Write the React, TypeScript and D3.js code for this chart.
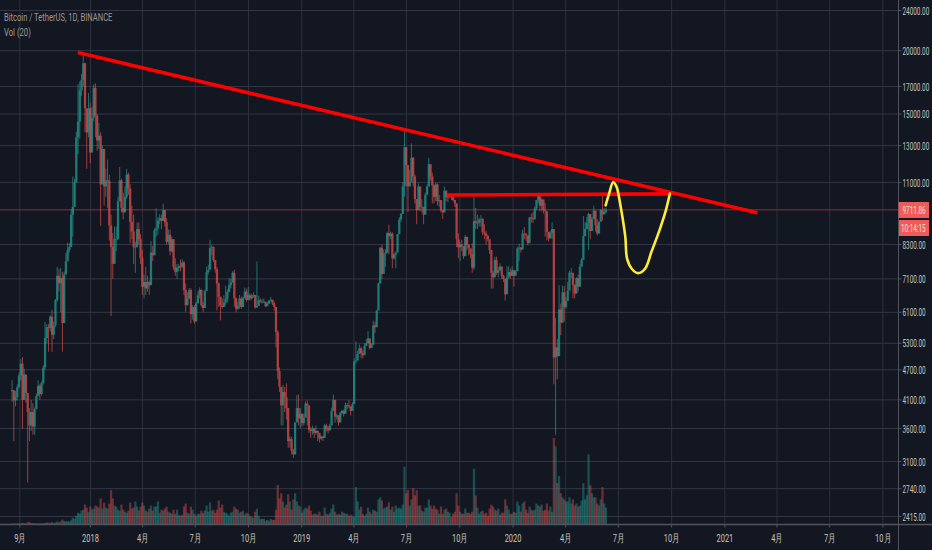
import * as d3 from "d3";

const W = 932;
const H = 550;

// 3-day bars starting at the first Binance candle
const firstBar = new Date(Date.UTC(2017, 7, 17));

const closes = [
  4285, 4090, 4150, 4340, 4580, 4830, 4100, 4600, 4230, 3880,
  3650, 3880, 3630, 3930, 4170, 4370, 4210, 4430, 4750, 5430,
  5700, 5680, 5980, 5510, 5750, 6450, 7200, 6960, 7130, 5810,
  7240, 7690, 8100, 8200, 9500, 9840, 11000, 13500, 14500, 16700,
  17500, 18900, 15400, 13800, 15400, 12600, 14750, 16900, 14900, 13300,
  13600, 10900, 12800, 10800, 11100, 11100, 9050, 8200, 7600, 8500,
  8500, 10100, 11100, 9800, 9600, 10300, 11400, 10700, 9200, 8800,
  8200, 8200, 8900, 8500, 7800, 6850, 7000, 6800, 7000, 6900,
  8000, 7900, 8850, 8930, 9250, 9350, 9240, 9700, 9180, 8400,
  8670, 8050, 8500, 7500, 7330, 7460, 7520, 7480, 7650, 6750,
  6300, 6500, 6750, 6050, 6250, 5850, 6350, 6590, 6750, 6300,
  6220, 6720, 7320, 7400, 8170, 8200, 7730, 7420, 6950, 6550,
  6280, 6250, 6380, 6470, 6690, 6900, 6980, 7300, 6500, 6200,
  6280, 6490, 6250, 6500, 6700, 6450, 6590, 6500, 6580, 6600,
  6240, 6280, 6440, 6400, 6400, 6400, 6270, 6340, 6430, 6460,
  6350, 6250, 5580, 4670, 4350, 4000, 4250, 4150, 3950, 3400,
  3430, 3250, 3200, 3700, 3950, 3770, 3850, 3690, 3780, 4030,
  4000, 3580, 3560, 3600, 3530, 3560, 3530, 3440, 3470, 3450,
  3650, 3600, 3570, 3650, 3900, 4100, 3800, 3820, 3700, 3860,
  3900, 3850, 4000, 4000, 3980, 3900, 4020, 4880, 4900, 5050,
  5180, 5070, 5020, 5240, 5300, 5420, 5190, 5260, 5750, 5700,
  6150, 6950, 8180, 7260, 7950, 7990, 8740, 8620, 8720, 7790,
  7930, 8000, 8700, 9300, 9530, 10800, 12900, 11900, 10800, 11000,
  12300, 11300, 10200, 9700, 10800, 9850, 9850, 9500, 10400, 10800,
  11950, 11300, 10850, 10300, 10900, 10100, 10150, 9700, 9600, 10600,
  10300, 10300, 10400, 10300, 10160, 10000, 8500, 8190, 8300, 8230,
  7870, 8590, 8300, 8160, 7950, 7470, 9230, 9150, 9150, 9300,
  9320, 8770, 8720, 8630, 8500, 8100, 7300, 7150, 7740, 7300,
  7390, 7510, 7200, 7100, 6620, 7150, 7320, 7200, 7380, 7200,
  7350, 8150, 8180, 8110, 8720, 8700, 8650, 8350, 9380, 9350,
  9300, 9770, 10150, 10350, 9900, 10180, 9700, 9650, 8790, 8530,
  8750, 8900, 4970, 5200, 5000, 6180, 5820, 6680, 6250, 6420,
  6730, 7300, 7300, 6900, 6640, 7120, 6850, 7500, 7740, 8620,
  8900, 9150, 9530, 8820, 9320, 9680, 9060, 8720, 9200, 9700,
  9520, 9620, 9711.86,
];

const highs = [
  4485, 4200, 4270, 4400, 4640, 4930, 4980, 4720, 4340, 4200,
  3950, 4100, 4040, 3960, 4220, 4480, 4400, 4460, 4800, 5840,
  5780, 5780, 6020, 6170, 5850, 6480, 7500, 7430, 7460, 7330,
  7340, 7990, 8370, 8350, 9750, 11300, 11190, 13850, 17200, 17400,
  18000, 19798, 17500, 15000, 16500, 15800, 15500, 17170, 17250, 15000,
  14400, 13800, 13000, 12800, 11700, 12200, 11400, 9500, 8740, 9000,
  9000, 10300, 11790, 11200, 10500, 10800, 11700, 11500, 10900, 9900,
  9500, 8400, 9170, 9170, 8700, 8100, 7240, 7500, 7200, 7050,
  8430, 8240, 8930, 9780, 9400, 9530, 9500, 9990, 9700, 9350,
  8880, 8880, 8600, 8500, 7800, 7600, 7600, 7750, 7760, 7700,
  6950, 6680, 6810, 6800, 6300, 6300, 6400, 6700, 6830, 6780,
  6400, 6760, 7500, 7570, 8480, 8280, 8230, 7730, 7490, 6980,
  6500, 6500, 6590, 6880, 6780, 7130, 7100, 7350, 7400, 6530,
  6400, 6600, 6550, 6550, 6830, 6790, 6840, 6650, 6620, 6680,
  6600, 7680, 6580, 6500, 6480, 6500, 6400, 6400, 6450, 6540,
  6450, 6400, 5700, 5620, 4750, 4330, 4390, 4350, 4420, 3950,
  3470, 3470, 3280, 3700, 4190, 4200, 3950, 3850, 3850, 4070,
  4090, 3880, 3620, 3650, 3610, 3650, 3570, 3510, 3490, 3480,
  3670, 3680, 3640, 3680, 3960, 4200, 3860, 3850, 3820, 3890,
  3920, 3920, 4050, 4040, 4100, 3980, 4060, 4950, 5345, 5120,
  5270, 5220, 5130, 5300, 5400, 5600, 5400, 5300, 5870, 5850,
  6170, 6980, 8200, 8300, 8110, 8130, 8800, 9080, 8800, 8770,
  7970, 8050, 8710, 9400, 9570, 10990, 13970, 12900, 11280, 11650,
  13130, 12350, 11400, 9980, 10950, 10600, 10180, 9700, 10500, 10900,
  12300, 11780, 11500, 10900, 11000, 10950, 10400, 10150, 9700, 10790,
  10400, 10410, 10450, 10350, 10250, 10100, 10000, 8730, 8400, 8480,
  8250, 8660, 8600, 8300, 8120, 8340, 10370, 9800, 9500, 9370,
  9480, 9350, 9100, 8840, 8660, 8210, 7680, 7370, 7850, 7860,
  7490, 7620, 7380, 7230, 7020, 7520, 7510, 7440, 7520, 7400,
  7390, 8210, 8330, 8200, 8880, 8980, 8750, 8450, 9400, 9550,
  9600, 9850, 10160, 10500, 10380, 10250, 10170, 10020, 9020, 8740,
  8830, 9180, 8180, 5950, 5400, 6900, 6350, 6890, 6870, 6520,
  7000, 7370, 7450, 7050, 6930, 7150, 7240, 7600, 7800, 9450,
  9200, 9400, 9580, 9170, 9400, 9890, 9570, 9310, 9220, 9740,
  10380, 9800, 9800,
];

const lows = [
  4060, 3400, 3980, 4090, 4320, 4480, 3600, 4230, 4050, 2817,
  3400, 3560, 3500, 3500, 4000, 4210, 4100, 4180, 4400, 4700,
  5300, 5100, 5600, 5100, 5400, 5700, 6400, 6700, 6100, 5100,
  6500, 7400, 7800, 8000, 9000, 8600, 10700, 11600, 12500, 13400,
  16300, 17000, 13800, 11700, 13500, 12000, 13000, 14500, 13500, 12700,
  12800, 9035, 11500, 9900, 10300, 9800, 8450, 6000, 7100, 7800,
  8050, 9300, 10100, 9600, 9300, 9700, 10200, 10400, 8350, 8500,
  7600, 7300, 8300, 8300, 7600, 6600, 6500, 6600, 6700, 6600,
  7800, 7700, 8100, 8600, 8650, 9100, 8900, 9350, 9000, 8300,
  8300, 7900, 8000, 7400, 7200, 7100, 7350, 7350, 7550, 6600,
  6100, 6300, 6480, 5800, 5900, 5790, 6270, 6400, 6500, 6250,
  6100, 6230, 7200, 7250, 7800, 7900, 7660, 7300, 6150, 6250,
  5880, 6200, 6300, 6300, 6380, 6680, 6800, 7030, 6260, 6100,
  6170, 6200, 6200, 6280, 6550, 6400, 6450, 6430, 6460, 6520,
  6200, 6230, 6350, 6380, 6350, 6380, 6240, 6300, 6350, 6400,
  6300, 6150, 5200, 4500, 4250, 3650, 3650, 3880, 3750, 3300,
  3300, 3200, 3150, 3400, 3770, 3650, 3600, 3640, 3650, 3950,
  3650, 3530, 3450, 3500, 3450, 3500, 3400, 3380, 3420, 3400,
  3600, 3550, 3520, 3570, 3850, 3900, 3700, 3750, 3650, 3780,
  3840, 3800, 3900, 3930, 3950, 3820, 3950, 4050, 4830, 4950,
  5120, 4950, 4950, 5200, 5250, 5300, 5150, 5200, 5400, 5560,
  5900, 6750, 7800, 7100, 7500, 7500, 8000, 7950, 8500, 7450,
  7750, 7450, 8250, 8900, 9200, 10300, 10300, 10800, 9620, 10800,
  11500, 10800, 10000, 9100, 10350, 9650, 9600, 9100, 9900, 10500,
  11400, 11100, 10000, 10000, 10100, 9900, 9850, 9600, 9320, 10350,
  10100, 10050, 10250, 10150, 10100, 9850, 8200, 7800, 7700, 8050,
  7780, 8050, 8100, 7900, 7800, 7300, 7400, 8900, 8900, 9000,
  9000, 8650, 8500, 8300, 8400, 7950, 6790, 6800, 7400, 7230,
  7150, 7350, 7100, 7000, 6435, 7000, 7100, 7100, 7200, 6850,
  7300, 7350, 7700, 8000, 8550, 8500, 8450, 8270, 9000, 9170,
  9150, 9500, 9700, 10000, 9650, 9650, 9550, 8600, 8450, 8420,
  8650, 8520, 4400, 3500, 4500, 5600, 5500, 6300, 5850, 6200,
  6600, 7050, 7130, 6500, 6500, 7000, 6700, 7300, 7600, 8500,
  8700, 8900, 8100, 8500, 9000, 9450, 8800, 8650, 8800, 9350,
  9250, 9500, 9550,
];

// volume in thousands of BTC, peak day of each 3-day bar
const volumes = [
  3, 2, 2, 3, 3, 4, 5, 4, 3, 8,
  10, 5, 4, 4, 3, 3, 3, 3, 4, 5,
  7, 6, 6, 9, 5, 7, 12, 8, 12, 22,
  15, 12, 14, 12, 18, 30, 25, 40, 55, 50,
  65, 70, 95, 80, 60, 85, 70, 75, 90, 85,
  80, 125, 75, 105, 80, 75, 100, 165, 125, 90,
  85, 70, 65, 95, 70, 60, 55, 65, 105, 75,
  80, 110, 85, 65, 85, 105, 90, 65, 60, 75,
  90, 65, 85, 85, 110, 55, 70, 65, 75, 85,
  60, 55, 50, 70, 50, 70, 45, 40, 45, 85,
  100, 55, 50, 85, 70, 50, 40, 50, 50, 65,
  55, 65, 90, 60, 105, 65, 70, 55, 70, 115,
  80, 95, 60, 55, 50, 40, 55, 60, 85, 75,
  70, 55, 60, 65, 45, 55, 50, 40, 35, 30,
  60, 75, 40, 25, 25, 25, 15, 20, 15, 25,
  20, 20, 70, 190, 125, 150, 110, 80, 95, 145,
  110, 70, 120, 150, 110, 90, 85, 55, 70, 80,
  75, 90, 65, 45, 50, 50, 45, 60, 40, 40,
  80, 50, 45, 55, 75, 95, 60, 45, 50, 45,
  60, 55, 50, 50, 40, 45, 40, 35, 180, 110,
  70, 85, 50, 40, 50, 80, 60, 50, 70, 65,
  60, 120, 130, 115, 75, 80, 85, 105, 70, 85,
  60, 90, 75, 80, 75, 95, 280, 150, 165, 90,
  120, 175, 140, 165, 90, 90, 65, 60, 80, 80,
  120, 90, 75, 90, 75, 70, 50, 85, 50, 70,
  75, 60, 55, 35, 50, 60, 150, 90, 60, 50,
  50, 75, 55, 55, 50, 60, 270, 140, 80, 50,
  60, 65, 50, 55, 40, 75, 95, 85, 70, 65,
  75, 45, 55, 55, 120, 90, 70, 50, 50, 60,
  55, 110, 90, 60, 100, 110, 70, 55, 85, 70,
  65, 70, 100, 90, 85, 95, 65, 70, 100, 65,
  85, 60, 420, 380, 200, 235, 150, 130, 120, 110,
  110, 130, 100, 120, 90, 100, 85, 90, 115, 200,
  120, 140, 340, 190, 150, 130, 130, 100, 90, 120,
  180, 100, 80,
];

const priceTicks = [24000, 20000, 17000, 15000, 13000, 11000, 8300, 7100, 6100, 5300, 4700, 4100, 3600, 3100, 2740, 2415];
const timeTicks = ["2017-09-01", "2018-01-01", "2018-04-01", "2018-07-01", "2018-10-01", "2019-01-01", "2019-04-01", "2019-07-01", "2019-10-01", "2020-01-01", "2020-04-01", "2020-07-01", "2020-10-01", "2021-01-01", "2021-04-01", "2021-07-01", "2021-10-01"];
const timeLabels = ["9月", "2018", "4月", "7月", "10月", "2019", "4月", "7月", "10月", "2020", "4月", "7月", "10月", "2021", "4月", "7月", "10月"];

const lastPrice = 9711.86;

// hand drawn annotations
const trendDates = ["2017-12-10", "2021-02-26"];
const trendPrices = [19830, 9580];
const levelDates = ["2019-09-09", "2020-09-28"];
const levelPrices = [10390, 10440];
const sketchDates = ["2020-06-09", "2020-06-15", "2020-06-22", "2020-06-28", "2020-07-02", "2020-07-07", "2020-07-13", "2020-07-16", "2020-07-24", "2020-08-04", "2020-08-16", "2020-08-27", "2020-09-11", "2020-09-21", "2020-09-28"];
const sketchPrices = [9914, 10454, 11006, 10774, 10296, 9548, 8585, 7781, 7435, 7289, 7435, 8018, 8918, 9691, 10454];

const BG = "#131722";
const GRID = "#2d303d";
const AXIS = "#50535e";
const UP = "#26a69a";
const DOWN = "#ef5350";
const TEXT = "#c4c4ba";

const axisX = 898.5;
const axisY = 524.5;

const x = d3.scaleUtc().domain([new Date("2018-01-01"), new Date("2021-10-01")]).range([90.5, 882.9]);
const y = d3.scaleLog().domain([2415, 24000]).range([516.5, 10.5]);
const volY = d3.scaleLinear().domain([0, 420]).range([524, 438]);

const bars = closes.map((close, i) => {
  const date = d3.utcDay.offset(firstBar, i * 3);
  const open = i === 0 ? 4261 : closes[i - 1];
  return { cx: x(d3.utcHour.offset(date, 36)), open, close, high: highs[i], low: lows[i], vol: volumes[i] };
});
const step = x(d3.utcDay.offset(firstBar, 3)) - x(firstBar);

const toPath = (dates: string[], prices: number[], curve: d3.CurveFactory) =>
  d3.line<string>()
    .x((d) => x(new Date(d)))
    .y((_, i) => y(prices[i]))
    .curve(curve)(dates) ?? "";

function Label({ x: tx, y: ty, sx, anchor = "start", fill = TEXT, children }: { x: number; y: number; sx: number; anchor?: string; fill?: string; children: string }) {
  return (
    <text
      transform={`translate(${tx},${ty}) scale(${sx},1)`}
      textAnchor={anchor}
      dominantBaseline="central"
      fontFamily="Roboto, sans-serif"
      fontSize={11}
      fill={fill}
    >
      {children}
    </text>
  );
}

export default function App() {
  return (
    <svg width={W} height={H} viewBox={`0 0 ${W} ${H}`} style={{ position: "absolute", left: 0, top: 0, background: BG }}>
      {/* grid */}
      {timeTicks.map((t) => (
        <line key={t} x1={x(new Date(t))} x2={x(new Date(t))} y1={0} y2={axisY} stroke={GRID} />
      ))}
      {priceTicks.map((p) => (
        <line key={p} x1={0} x2={axisX} y1={y(p)} y2={y(p)} stroke="#333644" />
      ))}

      {/* volume */}
      {bars.map((b, i) => (
        <rect
          key={i}
          x={b.cx - step * 0.65}
          y={volY(b.vol)}
          width={step * 1.3}
          height={volY(0) - volY(b.vol)}
          fill={b.close >= b.open ? UP : DOWN}
          opacity={0.4}
        />
      ))}

      {/* price line */}
      <line x1={0} x2={axisX} y1={y(lastPrice)} y2={y(lastPrice)} stroke="#8a2f36" strokeWidth={1} />

      {/* candles */}
      {bars.map((b, i) => {
        const color = b.close >= b.open ? UP : DOWN;
        return (
          <g key={i} opacity={0.7}>
            <line x1={b.cx} x2={b.cx} y1={y(b.high)} y2={y(b.low)} stroke={color} strokeWidth={0.9} />
            <rect
              x={b.cx - step * 0.65}
              y={Math.min(y(b.open), y(b.close))}
              width={step * 1.3}
              height={Math.max(0.8, Math.abs(y(b.open) - y(b.close)))}
              fill={color}
            />
          </g>
        );
      })}

      {/* drawings */}
      <path d={toPath(trendDates, trendPrices, d3.curveLinear)} fill="none" stroke="#ff0000" strokeWidth={3.6} />
      <path d={toPath(levelDates, levelPrices, d3.curveLinear)} fill="none" stroke="#ff0000" strokeWidth={3.6} />
      <path d={toPath(sketchDates, sketchPrices, d3.curveCatmullRom)} fill="none" stroke="#ffeb3b" strokeWidth={2.6} strokeLinecap="round" />

      {/* axes */}
      <rect x={axisX} y={0} width={W - axisX} height={H} fill={BG} />
      <rect x={0} y={axisY} width={W} height={H - axisY} fill={BG} />
      <line x1={axisX} x2={axisX} y1={0} y2={H} stroke={AXIS} />
      <line x1={0} x2={W} y1={axisY} y2={axisY} stroke={AXIS} strokeWidth={1.4} />
      {priceTicks.map((p) => (
        <g key={p}>
          <line x1={axisX} x2={axisX + 3} y1={y(p)} y2={y(p)} stroke={AXIS} />
          <Label x={902.5} y={y(p) + 0.5} sx={0.58}>{p.toFixed(2)}</Label>
        </g>
      ))}
      {timeTicks.map((t, i) => (
        <g key={t}>
          <line x1={x(new Date(t))} x2={x(new Date(t))} y1={axisY} y2={axisY + 3} stroke={AXIS} />
          <Label x={x(new Date(t))} y={537.5} sx={0.68} anchor="middle">{timeLabels[i]}</Label>
        </g>
      ))}

      {/* last price tags */}
      <rect x={898.5} y={202} width={30.5} height={16} fill="#f05a5a" />
      <Label x={902.5} y={210.5} sx={0.58} fill="#e8e4c8">{lastPrice.toFixed(2)}</Label>
      <rect x={899} y={220} width={30} height={16} fill="#f05a5a" />
      <Label x={901} y={228.5} sx={0.58} fill="#e8e4c8">10:14:15</Label>

      {/* legend */}
      <Label x={4} y={16.5} sx={0.69} fill="#9a9a94">Bitcoin / TetherUS, 1D, BINANCE</Label>
      <Label x={4} y={31.5} sx={0.7} fill="#9a9a94">Vol (20)</Label>
    </svg>
  );
}
